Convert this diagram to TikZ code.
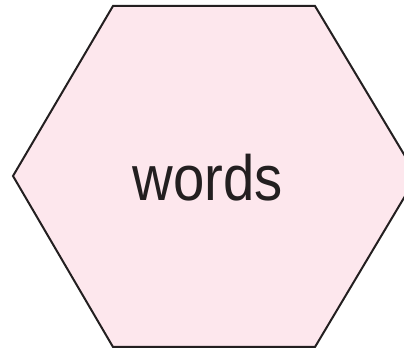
\documentclass[tikz,border=0pt]{standalone}
\usepackage{fontspec}
\setmainfont{Liberation Sans}
\usepackage{tikz}
\usetikzlibrary{positioning}
\definecolor{hexpink}{RGB}{253,231,237}
\definecolor{hexline}{RGB}{35,31,32}

\begin{document}
\begin{tikzpicture}[
  x=1pt,y=1pt,
  hexcell/.style={draw=hexline,fill=hexpink,line width=2pt,line join=miter},
  wordtext/.style={font=\fontsize{64}{70}\selectfont,text=hexline,inner sep=0pt,xscale=0.88,transform shape}
]
\useasboundingbox (0,0) rectangle (404,350);
\coordinate (w)  at (13,174);
\coordinate (nw) at (113,344);
\coordinate (ne) at (315,344);
\coordinate (e)  at (417,174);
\coordinate (se) at (315,3);
\coordinate (sw) at (113,3);
\draw[hexcell] (w) -- (nw) -- (ne) -- (e) -- (se) -- (sw) -- cycle;
\node[wordtext,anchor=base] (word) at (207.5,149) {words};
\end{tikzpicture}
\end{document}
